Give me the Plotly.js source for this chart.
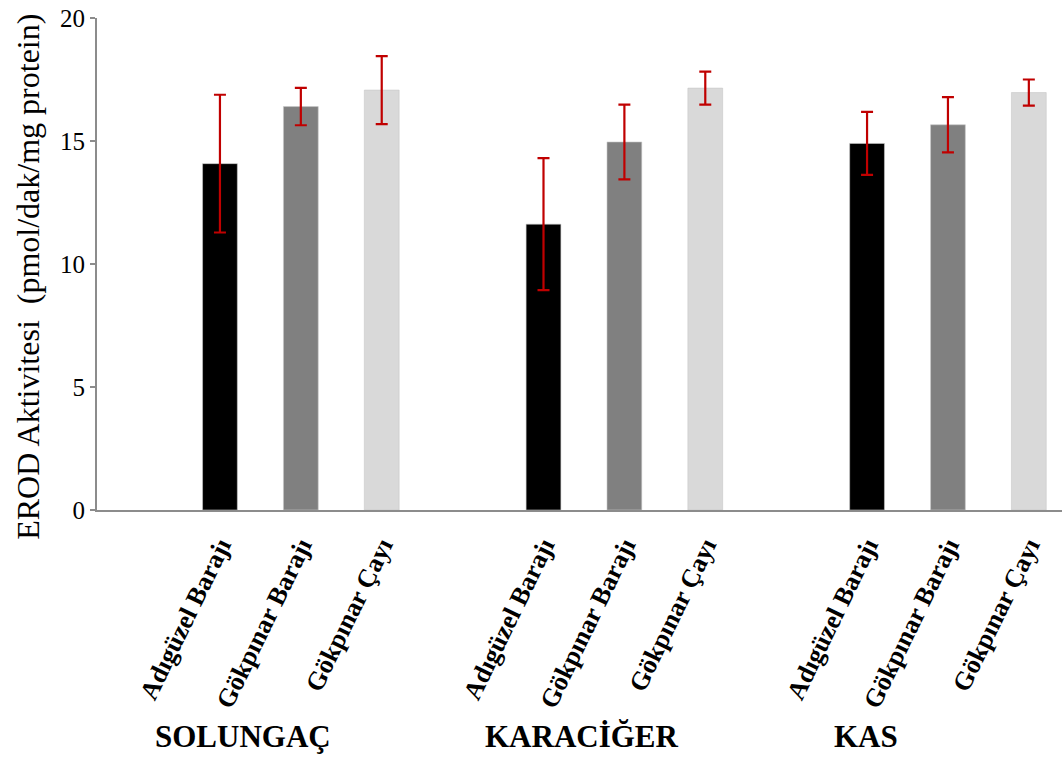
<!DOCTYPE html>
<html>
<head>
<meta charset="utf-8">
<script src="https://cdn.plot.ly/plotly-3.0.1.min.js"></script>
<style>html,body{margin:0;padding:0;background:#fff}#chart{width:1064px;height:758px}</style>
</head>
<body>
<div id="chart"></div>
<script>
// Data
const tissues = ["SOLUNGAÇ", "KARACİĞER", "KAS"];
const sites = ["Adıgüzel Barajı", "Gökpınar Barajı", "Gökpınar Çayı"];
const siteColors = ["#000000", "#808080", "#d9d9d9"];
const yTitle = "EROD Aktivitesi  (pmol/dak/mg protein)";
// values per site, across tissues
const adiguzelMean = [14.08, 11.62, 14.90];
const adiguzelErr  = [2.80, 2.68, 1.28];
const gokBarajMean = [16.40, 14.96, 15.66];
const gokBarajErr  = [0.76, 1.52, 1.12];
const gokCayMean   = [17.07, 17.15, 16.97];
const gokCayErr    = [1.38, 0.67, 0.53];

const means = [adiguzelMean, gokBarajMean, gokCayMean];
const errs = [adiguzelErr, gokBarajErr, gokCayErr];

const FONT = "'Times New Roman', 'Liberation Serif', serif";
const groupStep = 4;
const traces = sites.map((s, si) => ({
  type: "bar",
  name: s,
  x: tissues.map((t, ti) => ti * groupStep + si),
  y: means[si],
  width: 0.43,
  marker: {color: siteColors[si], line: {color: "#c8c8c8", width: 0.6}},
  error_y: {type: "data", array: errs[si], visible: true, color: "#c00000", thickness: 2.2, width: 6},
  hoverinfo: "skip"
}));

const tickvals = [], ticktext = [];
tissues.forEach((t, ti) => sites.forEach((s, si) => { tickvals.push(ti * groupStep + si); ticktext.push("<b>" + s + "</b>"); }));

const groupLabelX = [0.28, 4.47, 7.99];
const annotations = tissues.map((t, ti) => ({
  text: "<b>" + t + "</b>", xref: "x", yref: "paper", x: groupLabelX[ti], y: -0.46,
  xanchor: "center", yanchor: "middle", showarrow: false,
  font: {family: FONT, size: 31, color: "#000"}
}));
annotations.push({
  text: yTitle, xref: "paper", yref: "paper", x: -0.0715, y: 0.474, textangle: -90,
  xanchor: "center", yanchor: "middle", showarrow: false,
  font: {family: FONT, size: 32, color: "#000"}
});

const layout = {
  width: 1064, height: 758,
  margin: {l: 97, r: 2, t: 18, b: 248},
  paper_bgcolor: "#fff", plot_bgcolor: "#fff",
  showlegend: false,
  bargap: 0,
  font: {family: FONT, color: "#000"},
  xaxis: {
    range: [-1.52, 10.41], tickvals: tickvals, ticktext: ticktext, tickangle: -64,
    showline: true, linecolor: "#8c8c8c", linewidth: 2, ticks: "outside", ticklen: 8, tickcolor: "rgba(0,0,0,0)",
    showgrid: false, zeroline: false,
    tickfont: {family: FONT, size: 26, color: "#000"}
  },
  yaxis: {
    range: [0, 20], tickvals: [0, 5, 10, 15, 20], showline: true, linecolor: "#8c8c8c", linewidth: 2,
    ticks: "outside", ticklen: 5, tickcolor: "#8c8c8c", tickwidth: 2, showgrid: false, zeroline: false,
    tickfont: {family: FONT, size: 25, color: "#000"}
  },
  annotations: annotations
};

Plotly.newPlot("chart", traces, layout, {displayModeBar: false, staticPlot: true});
</script>
</body>
</html>
